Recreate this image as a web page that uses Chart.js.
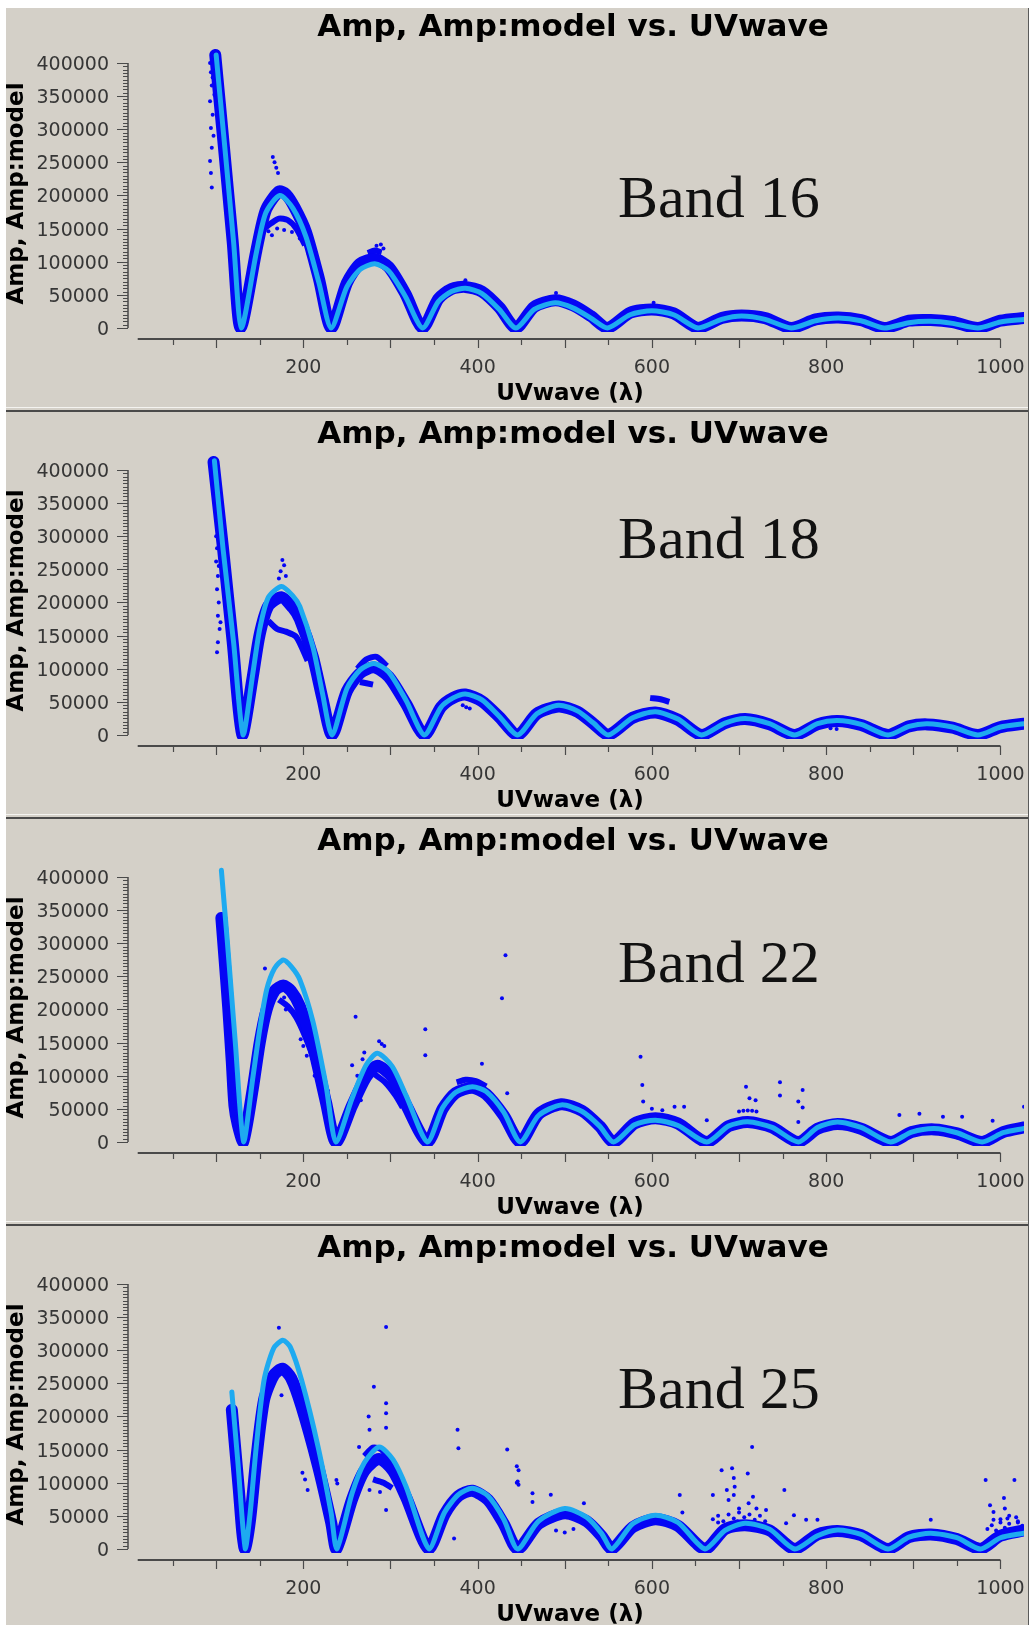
<!DOCTYPE html>
<html>
<head>
<meta charset="utf-8">
<script src="https://cdn.jsdelivr.net/npm/chart.js@4.4.1/dist/chart.umd.min.js"></script>
<style>
  body { margin: 0; background: #fff; width: 1031px; height: 1625px; overflow: hidden; position: relative; }
  #frame { position: absolute; left: 6px; top: 8px; width: 1022px; height: 1617px; background: #d4d0c8; border-right: 1px solid #5a5a5a; overflow: hidden; }
  .panel { position: absolute; left: 0; width: 1022px; height: 407px; }
  .sepLight { position: absolute; left: 0; width: 1022px; height: 1px; background: #f4f3f0; }
  .sepDark { position: absolute; left: 0; width: 1022px; height: 2px; background: #4a4a4a; }
</style>
</head>
<body>
<div id="frame">
  <div class="panel" style="top:0px"><canvas id="c0" width="1022" height="407"></canvas></div>
  <div class="sepLight" style="top:399px"></div><div class="sepDark" style="top:402px"></div>
  <div class="panel" style="top:407px"><canvas id="c1" width="1022" height="407"></canvas></div>
  <div class="sepLight" style="top:806px"></div><div class="sepDark" style="top:809px"></div>
  <div class="panel" style="top:814px"><canvas id="c2" width="1022" height="407"></canvas></div>
  <div class="sepLight" style="top:1213px"></div><div class="sepDark" style="top:1216px"></div>
  <div class="panel" style="top:1221px"><canvas id="c3" width="1022" height="407"></canvas></div>
</div>
<script>
// --- textos y ejes ---
const titleText = 'Amp, Amp:model vs. UVwave';
const xTitle = 'UVwave (λ)';
const yTitle = 'Amp, Amp:model';
const yTickValues = [0, 50000, 100000, 150000, 200000, 250000, 300000, 350000, 400000];
const xTickLabels = [200, 400, 600, 800, 1000];
const bandNames = ['Band 16', 'Band 18', 'Band 22', 'Band 25'];
const bandBaselines = [209, 143, 160, 179];

// --- Band 16 ---
const band16Model = [[100,412000],[110,272000],[120,130000],[129,0],[146,113000],[157,174000],[173,200000],[188,181000],[203,138000],[218,68000],[232,0],[250,62000],[265,88000],[282,97000],[298,86000],[317,48000],[337,0],[355,40000],[370,55000],[386,60000],[405,52000],[425,28000],[444,0],[465,28000],[489,38000],[510,30000],[530,15000],[549,0],[575,20000],[600,26000],[625,20000],[653,0],[680,13000],[703,18000],[730,13000],[760,0],[788,11000],[814,15000],[840,11000],[867,0],[895,8000],[920,10000],[945,7000],[974,0],[1000,9000],[1027,13000]];
const band16Data = [[99,412000],[109,272000],[119,130000],[128,0],[146,116000],[157,178000],[172,206000],[180,202000],[190,182000],[203,145000],[218,74000],[232,0],[250,68000],[265,97000],[282,104000],[298,92000],[317,52000],[337,0],[355,44000],[370,59000],[386,62000],[405,55000],[425,31000],[444,0],[465,32000],[489,42000],[510,34000],[530,18000],[549,0],[575,23000],[600,28000],[625,22000],[653,0],[680,15000],[703,19000],[730,15000],[760,0],[788,13000],[814,16000],[840,12000],[867,0],[895,11000],[920,12000],[945,9000],[974,0],[1000,11000],[1027,15000]];
const band16Spread = [[155,150000],[163,158000],[172,165000],[182,163000],[192,150000],[202,125000],[202,null],[274,113000],[282,117000],[290,114000]];
const band16Points = [[93,400000],[94,386000],[95,366000],[93,342000],[96,322000],[94,302000],[95,272000],[93,252000],[94,234000],[95,212000],[97,290000],[98,352000],[96,378000],[165,258000],[167,250000],[169,242000],[171,234000],[160,146000],[164,140000],[170,150000],[178,148000],[187,145000],[196,135000],[206,112000],[212,92000],[216,80000],[284,124000],[289,126000],[292,120000],[386,72000],[490,53000],[602,38000]];

// --- Band 18 ---
const band18Model = [[98,414000],[108,280000],[120,140000],[131,0],[142,92000],[150,160000],[160,208000],[175,224000],[188,210000],[196,194000],[211,133000],[222,63000],[233,0],[250,70000],[265,98000],[281,108000],[298,95000],[318,52000],[339,0],[358,42000],[372,56000],[386,62000],[405,53000],[425,28000],[446,0],[468,32000],[493,45000],[515,36000],[533,18000],[550,0],[578,26000],[604,35000],[630,24000],[657,0],[684,18000],[707,25000],[735,17000],[764,0],[790,17000],[813,22000],[840,16000],[871,0],[895,13000],[916,17000],[945,12000],[974,0],[1000,12000],[1027,17000]];
const band18Data = [[97,412000],[108,280000],[119,140000],[130,0],[142,88000],[150,152000],[160,195000],[175,208000],[188,192000],[196,175000],[211,118000],[222,55000],[233,0],[250,66000],[265,93000],[281,102000],[298,88000],[318,47000],[339,0],[358,42000],[372,56000],[386,61000],[405,51000],[425,27000],[446,0],[468,32000],[493,43000],[515,35000],[533,17000],[550,0],[578,26000],[604,34000],[630,23000],[657,0],[684,18000],[707,24000],[735,16000],[764,0],[790,16000],[813,21000],[840,15000],[871,0],[895,13000],[916,16000],[945,11000],[974,0],[1000,12000],[1027,17000]];
const band18Spread = [[160,172000],[170,160000],[180,156000],[192,148000],[205,112000],[205,null],[262,100000],[272,114000],[284,118000],[296,104000],[296,null],[265,80000],[280,76000],[280,null],[598,56000],[610,54000],[620,50000]];
const band18Points = [[100,300000],[101,282000],[100,262000],[102,240000],[101,220000],[103,200000],[102,180000],[104,160000],[102,140000],[101,125000],[103,255000],[105,170000],[176,264000],[178,256000],[174,247000],[180,240000],[172,236000],[383,45000],[387,42000],[391,40000],[805,10000],[812,9000]];

// --- Band 22 ---
const band22Model = [[106,410000],[113,300000],[122,150000],[131.6,0],[142,96000],[150,170000],[158,230000],[167,262000],[177,274700],[186,265000],[196,245000],[211,182000],[226,86000],[237.6,0],[256,66000],[272,116000],[285,134000],[302,114000],[318,70000],[342.5,0],[360,52000],[375,75000],[394,83500],[410,76000],[430,45000],[449,0],[470,40000],[496,56000],[520,46000],[540,24000],[556,0],[580,26000],[604,33000],[630,25000],[663,0],[688,24000],[710,30500],[738,22000],[768,0],[790,22000],[813,30000],[840,22000],[874,0],[898,15000],[924,20500],[950,14000],[979,0],[1003,14000],[1027,20500]];
const band22Data = [[106,338000],[110,270000],[114,200000],[118,120000],[121,55000],[125,25000],[131,0],[142,80000],[150,150000],[158,200000],[167,228000],[177,236000],[186,228000],[196,205000],[211,145000],[226,60000],[237.6,0],[256,55000],[272,98000],[285,115000],[302,98000],[318,56000],[342.5,0],[360,50000],[375,74000],[394,82000],[410,72000],[430,40000],[449,0],[470,42000],[496,57000],[520,47000],[540,24000],[556,0],[580,28000],[604,36000],[630,28000],[663,0],[688,24000],[710,30000],[738,22000],[768,0],[790,20000],[813,27000],[840,20000],[874,0],[898,15000],[924,19000],[950,13000],[979,0],[1003,15000],[1027,22000]];
const band22Spread = [[172,215000],[182,205000],[192,188000],[202,160000],[212,125000],[220,85000],[220,null],[282,102000],[294,90000],[306,70000],[314,52000],[314,null],[376,90000],[386,94000],[398,92000],[410,84000]];
const band22Points = [[119,60000],[122,50000],[123,42000],[120,75000],[156,262000],[178,218000],[180,200000],[197,155000],[200,145000],[204,130000],[213,100000],[228,78000],[260,189000],[287,152000],[290,148000],[293,145000],[256,116000],[266,63000],[268,125000],[262,100000],[270,135000],[340,170000],[340,131000],[405,118000],[434,73500],[432,282000],[428,217000],[587,128800],[589,86000],[590,61000],[626,53300],[637,53300],[663,33000],[708,83500],[712,66000],[719,63000],[747,90000],[747,70000],[773,78500],[768,61000],[773,52000],[768,30000],[884,40700],[907,42500],[934,38000],[956,38000],[1027,53300],[991,32000],[600,50000],[612,48000],[700,46000],[705,47000],[710,47500],[715,47000],[720,46000]];

// --- Band 25 ---
const band25Model = [[118,237000],[125,130000],[133.5,0],[139,54000],[146,154000],[155,255000],[166,303000],[176.5,315000],[185,305000],[198,255000],[217,154000],[232,54000],[238.4,0],[256,84000],[270,130000],[287,154000],[303,135000],[318,94000],[344.4,0],[362,55000],[378,82000],[394,91600],[412,80000],[430,45000],[446,0],[470,42000],[500,61000],[525,48000],[542,24000],[554,0],[578,38000],[604,51000],[630,40000],[661,0],[684,28000],[707,38800],[735,30000],[764,0],[790,20000],[813,28700],[840,22000],[871,0],[895,18000],[920,23700],[950,17000],[977,0],[1000,17000],[1027,24000]];
const band25Data = [[118,210000],[122,150000],[126,90000],[130,25000],[133,0],[139,45000],[146,135000],[155,225000],[166,262000],[176,272000],[186,258000],[198,215000],[217,125000],[232,40000],[238,0],[256,75000],[270,118000],[287,136000],[303,118000],[318,78000],[344,0],[362,52000],[378,80000],[394,88000],[412,74000],[430,38000],[446,0],[470,38000],[500,54000],[525,42000],[542,20000],[554,0],[578,33000],[604,45000],[630,35000],[661,0],[684,30000],[707,36000],[735,28000],[764,0],[790,22000],[813,27000],[840,21000],[871,0],[895,18000],[920,22000],[950,15000],[977,0],[1000,20000],[1027,28000]];
const band25Spread = [[270,140000],[280,153000],[290,150000],[300,132000],[300,null],[280,105000],[292,100000],[302,92000]];
const band25Points = [[172,334000],[175,232000],[199,115000],[205,89000],[202,105000],[295,335000],[281,245000],[275,200000],[295,220000],[295,205000],[295,183000],[276,180000],[264,154000],[238,104000],[239,99000],[295,59000],[288,86000],[276,89000],[377,180000],[378,152000],[434,150000],[373,16000],[445,125000],[445,100000],[447,119000],[446,102000],[447,97000],[463,84000],[484,82000],[463,71000],[522,69000],[490,28000],[500,25000],[510,30000],[632,81500],[635,55000],[680,119000],[692,122000],[694,107000],[695,94000],[686,89000],[694,81500],[710,114000],[715,154000],[670,81500],[688,74000],[711,69000],[731,59000],[716,79000],[752,89000],[720,61000],[700,61000],[777,44000],[790,44000],[763,51000],[754,39000],[920,44000],[983,104000],[1004,77000],[988,66000],[1005,61000],[992,56000],[1016,104000],[1000,45000],[1010,50000],[1020,40000],
    [670,45000],[676,50000],[682,42000],[688,52000],[694,46000],[700,55000],[706,48000],[712,52000],[718,44000],[724,50000],[730,42000],[676,40000],[698,42000],[716,40000],
    [985,30000],[990,36000],[995,28000],[1000,40000],[1005,32000],[1010,38000],[1015,30000],[1020,42000],[1025,35000],[992,44000],[1008,46000],[1018,48000]];

const dataBlue = '#0505f5';
const modelCyan = '#1eaaf0';
const inkGray = '#363636';

// --- plugin: ejes estilo plotms, titulos y etiqueta de banda ---
const plotmsAxes = {
    id: 'plotmsAxes',
    afterDraw(chart, args, opts) {
        const { ctx, chartArea, scales } = chart;
        const x = scales.x, y = scales.y;
        ctx.save();
        ctx.strokeStyle = '#4a4a4a';
        ctx.fillStyle = inkGray;

        // eje Y
        const axX = chartArea.left - 1;
        ctx.lineWidth = 1.5;
        ctx.beginPath();
        ctx.moveTo(axX, y.getPixelForValue(0));
        ctx.lineTo(axX, y.getPixelForValue(400000));
        ctx.stroke();
        ctx.lineWidth = 1;
        for (let v = 0; v <= 400000; v += 5000) {
            const py = Math.round(y.getPixelForValue(v)) + 0.5;
            const len = (v % 50000 === 0) ? 11 : 5;
            ctx.beginPath();
            ctx.moveTo(axX - len, py);
            ctx.lineTo(axX, py);
            ctx.stroke();
        }
        ctx.font = '19px "DejaVu Sans"';
        ctx.textAlign = 'right';
        ctx.textBaseline = 'alphabetic';
        yTickValues.forEach(v => {
            ctx.fillText(String(v), axX - 19, y.getPixelForValue(v) + 7);
        });

        // eje X (de 10 a 1000, debajo del area)
        const axY = chartArea.bottom + 11;
        ctx.lineWidth = 2;
        ctx.beginPath();
        ctx.moveTo(x.getPixelForValue(10), axY);
        ctx.lineTo(x.getPixelForValue(1000), axY);
        ctx.stroke();
        ctx.lineWidth = 1.2;
        for (let v = 50; v <= 1000; v += 50) {
            const px = Math.round(x.getPixelForValue(v)) + 0.5;
            const len = (v % 100 === 0) ? 9 : 6;
            ctx.beginPath();
            ctx.moveTo(px, axY);
            ctx.lineTo(px, axY + len);
            ctx.stroke();
        }
        ctx.textAlign = 'center';
        xTickLabels.forEach(v => {
            ctx.fillText(String(v), x.getPixelForValue(v), chartArea.bottom + 45);
        });

        // titulos
        ctx.fillStyle = '#000';
        ctx.font = 'bold 31px "DejaVu Sans"';
        ctx.fillText(titleText, 567, 28);
        ctx.font = 'bold 23px "DejaVu Sans"';
        ctx.fillText(xTitle, 564, chartArea.bottom + 72);
        ctx.save();
        ctx.translate(17, 185.5);
        ctx.rotate(-Math.PI / 2);
        ctx.font = 'bold 23px "DejaVu Sans"';
        ctx.fillText(yTitle, 0, 0);
        ctx.restore();

        // etiqueta de banda
        ctx.fillStyle = '#111';
        ctx.textAlign = 'left';
        ctx.font = '60px "Liberation Serif"';
        ctx.fillText(opts.label, 612, opts.baseline);
        ctx.restore();
    }
};

function dibujarPanel(canvasId, model, data, spread, points, label, baseline) {
    const ctx = document.getElementById(canvasId).getContext('2d');
    const recorte = { left: 10, top: 6, right: 0, bottom: 4 };
    const lineBase = {
        type: 'line', pointRadius: 0, tension: 0.25, spanGaps: false,
        borderJoinStyle: 'round', borderCapStyle: 'round', fill: false, clip: recorte
    };
    return new Chart(ctx, {
        type: 'line',
        data: {
            datasets: [
                Object.assign({}, lineBase, { data: model, borderColor: modelCyan, borderWidth: 5, order: 0 }),
                { type: 'scatter', data: points, backgroundColor: dataBlue, borderWidth: 0, pointRadius: 2, order: 1, clip: recorte },
                Object.assign({}, lineBase, { data: data, borderColor: dataBlue, borderWidth: 12, order: 2 }),
                Object.assign({}, lineBase, { data: spread, borderColor: dataBlue, borderWidth: 6, borderCapStyle: 'butt', order: 3 })
            ]
        },
        options: {
            responsive: false,
            animation: false,
            events: [],
            layout: { padding: { left: 123, right: 1, top: 45, bottom: 87 } },
            plugins: {
                legend: { display: false },
                tooltip: { enabled: false },
                plotmsAxes: { label: label, baseline: baseline }
            },
            scales: {
                x: { type: 'linear', min: 0, max: 1027, display: false },
                y: { type: 'linear', min: 0, max: 415000, display: false }
            }
        },
        plugins: [plotmsAxes]
    });
}

dibujarPanel('c0', band16Model, band16Data, band16Spread, band16Points, bandNames[0], bandBaselines[0]);
dibujarPanel('c1', band18Model, band18Data, band18Spread, band18Points, bandNames[1], bandBaselines[1]);
dibujarPanel('c2', band22Model, band22Data, band22Spread, band22Points, bandNames[2], bandBaselines[2]);
dibujarPanel('c3', band25Model, band25Data, band25Spread, band25Points, bandNames[3], bandBaselines[3]);
</script>
</body>
</html>
